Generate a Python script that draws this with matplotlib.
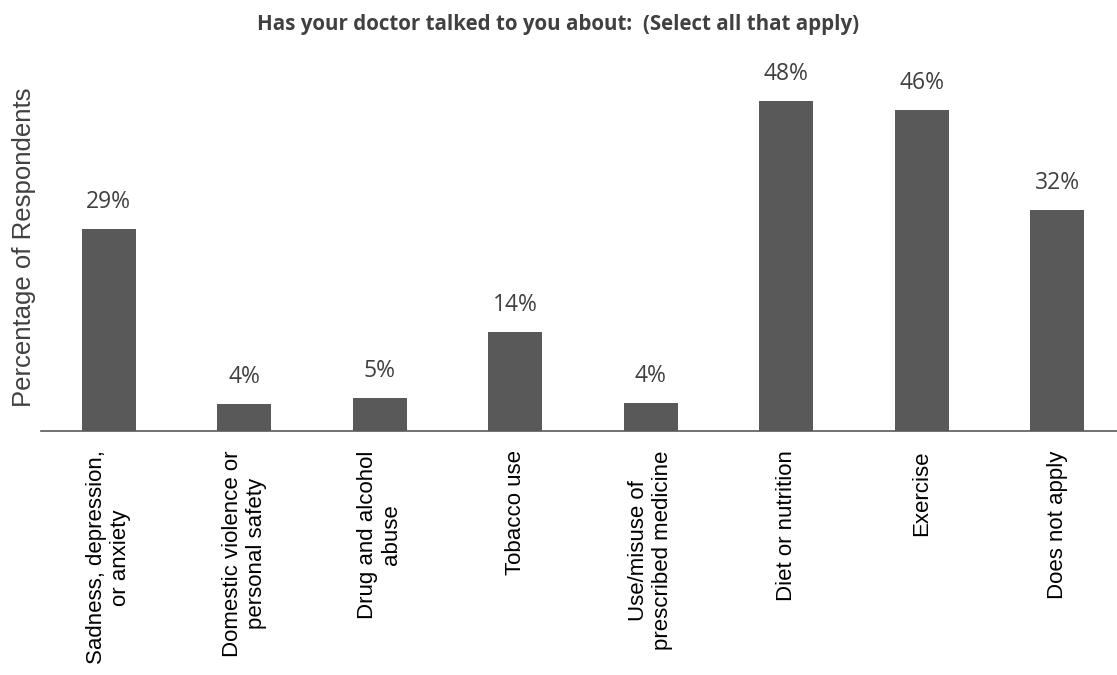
import matplotlib.pyplot as plt

# Survey data
categories = [
    "Sadness, depression,\nor anxiety",
    "Domestic violence or\npersonal safety",
    "Drug and alcohol\nabuse",
    "Tobacco use",
    "Use/misuse of\nprescribed medicine",
    "Diet or nutrition",
    "Exercise",
    "Does not apply",
]
values = [29.4, 3.9, 4.8, 14.4, 4.1, 48.0, 46.7, 32.1]
value_labels = ["29%", "4%", "5%", "14%", "4%", "48%", "46%", "32%"]

title = "Has your doctor talked to you about:  (Select all that apply)"
ylabel = "Percentage of Respondents"

plt.rcParams['font.family'] = ['Liberation Sans', 'DejaVu Sans']

fig = plt.figure(figsize=(11.17, 6.75), dpi=100)
ax = fig.add_axes([0.0367, 0.3615, 0.9705, 0.55])

x = range(len(categories))
bars = ax.bar(x, values, width=0.4, color='#595959')

for b, lab in zip(bars, value_labels):
    ax.annotate(lab, (b.get_x() + b.get_width() / 2, b.get_height()),
                xytext=(0, 11), textcoords='offset points',
                ha='center', va='bottom', fontsize=16.5, color='#404040',
                family='Open Sans')

ax.set_xlim(-0.5, len(categories) - 0.5)
ax.set_ylim(0, 54)
ax.set_xticks(list(x))
ax.set_xticklabels(categories, rotation=90, ha='center', va='top',
                   multialignment='center', fontsize=16, color='#000000')
ax.tick_params(axis='x', length=0, pad=14)
ax.set_yticks([])
for side in ['top', 'right', 'left']:
    ax.spines[side].set_visible(False)
ax.spines['bottom'].set_color('#595959')
ax.spines['bottom'].set_linewidth(1.2)

# y label placed in figure coords so it stays inside the left edge
fig.text(12 / 1117, 1 - 247 / 675, ylabel, rotation=90, ha='left',
         va='center', fontsize=18.5, color='#404040')

fig.text(0.5, 0.963, title, ha='center', va='center', fontsize=14.8,
         fontweight='bold', color='#404040', family='Open Sans')

fig.savefig('out.png', dpi=100)
